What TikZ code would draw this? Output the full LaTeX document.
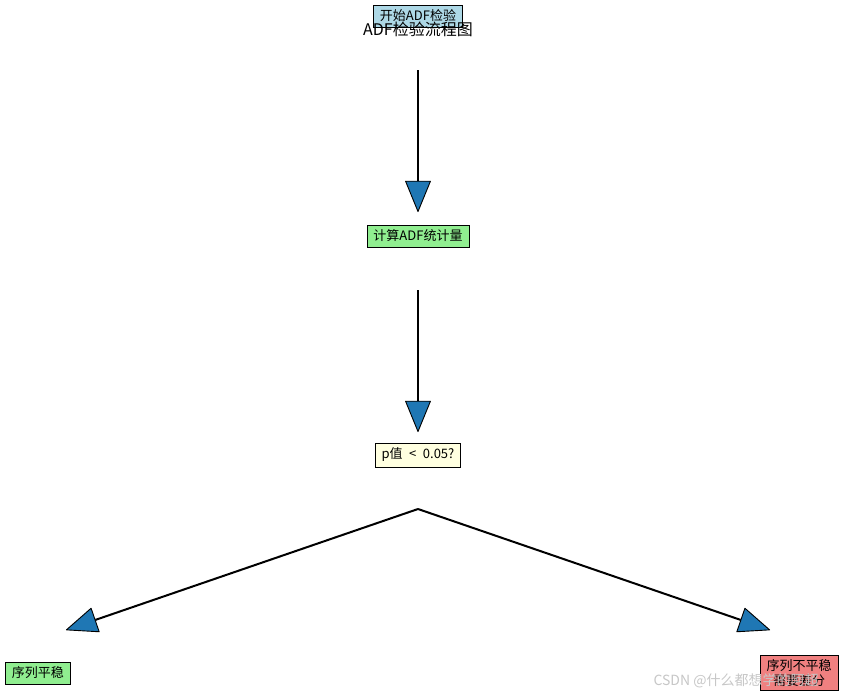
\documentclass[tikz,border=0pt]{standalone}
\usepackage{fontspec}
\setmainfont{Noto Sans CJK SC}
\usetikzlibrary{arrows.meta}
\definecolor{mplblue}{HTML}{1F77B4}
\definecolor{cLightBlue}{HTML}{ADD8E6}
\definecolor{cLightGreen}{HTML}{90EE90}
\definecolor{cLightYellow}{HTML}{FFFFE0}
\definecolor{cLightCoral}{HTML}{F08080}
\tikzset{
  stepbox/.style={draw=black, line width=0.9pt, inner xsep=6.5pt, inner ysep=5pt,
    font=\fontsize{13}{15}\selectfont, align=center},
  flowarrow/.style={line width=2pt, -{Triangle[length=32pt,width=26pt,line width=0.9pt,fill=mplblue,color=black,round]}},
}
\begin{document}
\begin{tikzpicture}[x=1pt,y=-1pt]
\useasboundingbox (0,0) rectangle (843,697);
\fill[white] (0,0) rectangle (843,697);
% nodes
\node[stepbox, fill=cLightBlue] (start) at (418,16) {开始ADF检验};
\node[font=\fontsize{16}{18}\selectfont] (title) at (418,29) {ADF检验流程图};
\node[stepbox, fill=cLightGreen] (calc) at (418,236) {计算ADF统计量};
\node[stepbox, fill=cLightYellow] (test) at (418,455) {p值\enspace<\enspace 0.05?};
\node[stepbox, fill=cLightGreen] (stat) at (38,673) {序列平稳};
\node[stepbox, fill=cLightCoral, inner ysep=4pt] (nonstat) at (799,673) {序列不平稳\\需要差分};
% connector end points
\coordinate (a1s) at (418,70);
\coordinate (a1e) at (418,212);
\coordinate (a2s) at (418,290);
\coordinate (a2e) at (418,432);
\coordinate (split) at (418,509);
\coordinate (a3e) at (66,630);
\coordinate (a4e) at (770,630);
% connectors
\draw[flowarrow] (a1s) -- (a1e);
\draw[flowarrow] (a2s) -- (a2e);
\draw[flowarrow] (split) -- (a3e);
\draw[flowarrow] (split) -- (a4e);
% watermark
\node[text=black!22, font=\fontsize{14}{16}\selectfont, anchor=west] (wm) at (650,681) {CSDN @什么都想学的阿超};
\end{tikzpicture}
\end{document}
